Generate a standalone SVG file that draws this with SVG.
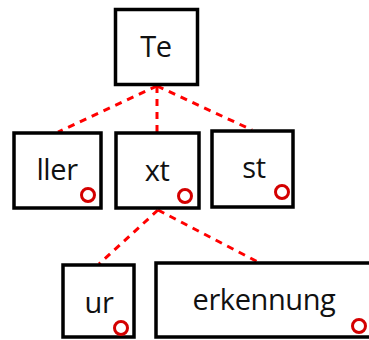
<svg xmlns="http://www.w3.org/2000/svg" width="369" height="340" viewBox="0 0 369 340">
  <style>
    .box { fill: #fff; stroke: #000; stroke-width: 3.5; }
    .lbl { font-family: "Open Sans", "Noto Sans", sans-serif; font-size: 29px; letter-spacing: -0.4px; fill: #111; text-anchor: middle; }
    .mark { fill: none; stroke: #d40000; stroke-width: 3; }
    .edge { stroke: #ff0000; stroke-width: 3; stroke-dasharray: 7 6; fill: none; }
  </style>
  <rect width="369" height="340" fill="#fff"/>
  <g id="connectors">
    <line class="edge" x1="157" y1="86" x2="58" y2="132"/>
    <line class="edge" x1="157" y1="86" x2="157" y2="132"/>
    <line class="edge" x1="157" y1="86" x2="252" y2="130"/>
    <line class="edge" x1="158" y1="210" x2="99" y2="264"/>
    <line class="edge" x1="158" y1="210" x2="258" y2="262"/>
  </g>
  <g id="te">
    <rect class="box" x="115.5" y="9.5" width="82" height="75"/>
    <text class="lbl" x="156" y="57">Te</text>
  </g>
  <g id="ller">
    <rect class="box" x="14" y="133" width="87" height="75"/>
    <text class="lbl" x="57" y="180">ller</text>
    <circle class="mark" cx="88" cy="195" r="6.5"/>
  </g>
  <g id="xt">
    <rect class="box" x="116" y="133" width="83" height="75"/>
    <text class="lbl" x="157" y="181">xt</text>
    <circle class="mark" cx="185" cy="196" r="6.5"/>
  </g>
  <g id="st">
    <rect class="box" x="212" y="131" width="81" height="76"/>
    <text class="lbl" x="254" y="178">st</text>
    <circle class="mark" cx="282" cy="192" r="6.5"/>
  </g>
  <g id="ur">
    <rect class="box" x="63" y="265" width="71" height="72"/>
    <text class="lbl" x="99" y="313">ur</text>
    <circle class="mark" cx="121" cy="328" r="6.5"/>
  </g>
  <g id="erkennung">
    <rect class="box" x="156" y="263" width="216" height="74"/>
    <text class="lbl" x="264" y="310">erkennung</text>
    <circle class="mark" cx="359" cy="326" r="6.5"/>
  </g>
</svg>
